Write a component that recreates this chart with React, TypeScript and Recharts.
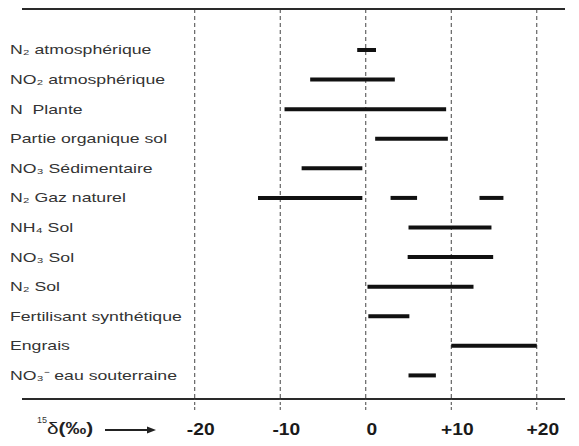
import React from 'react';
import { ComposedChart, Bar, XAxis, YAxis, CartesianGrid, Label } from 'recharts';

const sources: string[] = [
  'N₂ atmosphérique',
  'NO₂ atmosphérique',
  'N  Plante',
  'Partie organique sol',
  'NO₃ Sédimentaire',
  'N₂ Gaz naturel',
  'NH₄ Sol',
  'NO₃ Sol',
  'N₂ Sol',
  'Fertilisant synthétique',
  'Engrais',
  'NO₃⁻ eau souterraine',
];

const mainRange: ([number, number] | null)[] = [
  [-1, 1.2],
  [-6.5, 3.4],
  [-9.5, 9.4],
  [1.1, 9.6],
  [-7.5, -0.4],
  [-12.6, -0.4],
  [5, 14.7],
  [4.9, 14.9],
  [0.2, 12.6],
  [0.3, 5.1],
  [10, 20],
  [5, 8.2],
];

const extraRangeA: ([number, number] | null)[] = [
  null, null, null, null, null, [2.9, 6], null, null, null, null, null, null,
];

const extraRangeB: ([number, number] | null)[] = [
  null, null, null, null, null, [13.3, 16.1], null, null, null, null, null, null,
];

const xTicks: number[] = [-20, -10, 0, 10, 20];
const xTickLabels: string[] = ['-20', '-10', '0', '+10', '+20'];
const xDomain: [number, number] = [-40.2, 23.3];

const data = sources.map((name, i) => ({
  name,
  main: mainRange[i],
  extraA: extraRangeA[i],
  extraB: extraRangeB[i],
}));

const FONT = '"Liberation Sans", Arial, Helvetica, sans-serif';

const tickPixels = (p: any): number[] => {
  const sc = p?.xAxis?.scale;
  if (typeof sc === 'function') {
    return xTicks.map((t) => sc(t));
  }
  const { left, width } = p.offset;
  return xTicks.map((t) => left + ((t - xDomain[0]) / (xDomain[1] - xDomain[0])) * width);
};

const YTick = (props: any) => {
  const { y, payload } = props;
  return (
    <text
      x={0}
      y={0}
      transform={`translate(10,${y}) scale(1.36,1)`}
      dy="0.36em"
      fontSize={13}
      fill="#333"
      fontFamily={FONT}
      style={{ whiteSpace: 'pre' }}
    >
      {payload.value}
    </text>
  );
};

const XTick = (props: any) => {
  const { x, y, payload } = props;
  const idx = xTicks.indexOf(payload.value);
  const label = idx >= 0 ? xTickLabels[idx] : String(payload.value);
  return (
    <text
      x={0}
      y={0}
      transform={`translate(${x + 6},${y + 12}) scale(1.2,1)`}
      dy="0.71em"
      textAnchor="middle"
      fontSize={16}
      fontWeight="bold"
      fill="#1a1a1a"
      fontFamily={FONT}
    >
      {label}
    </text>
  );
};

const DeltaLabel = () => (
  <g>
    <text x={37} y={423} fontSize={9} fill="#333" fontFamily={FONT}>
      15
    </text>
    <text
      x={0}
      y={0}
      transform="translate(47,434) scale(1.3,1)"
      fontSize={16}
      fill="#222"
      fontFamily={FONT}
    >
      δ<tspan fontWeight="bold">(‰)</tspan>
    </text>
    <line x1={105} y1={430} x2={148} y2={430} stroke="#222" strokeWidth={2} />
    <polygon points="147,426.5 156,430 147,433.5" fill="#222" />
  </g>
);

export default function App() {
  return (
    <div style={{ position: 'absolute', left: 0, top: 0, width: 579, height: 446, background: '#fff' }}>
      <ComposedChart
        width={579}
        height={446}
        data={data}
        layout="vertical"
        margin={{ top: 9, right: 14, bottom: 0, left: 0 }}
      >
        <CartesianGrid
          horizontal={false}
          vertical
          stroke="#444"
          strokeDasharray="4 3"
          verticalCoordinatesGenerator={tickPixels}
        />
        <CartesianGrid
          vertical={false}
          horizontal
          stroke="#2a2a2a"
          strokeWidth={2}
          horizontalCoordinatesGenerator={(p: any) => [p.offset.top]}
        />
        <XAxis
          type="number"
          domain={xDomain}
          ticks={xTicks}
          allowDataOverflow
          height={47}
          axisLine={{ stroke: '#2a2a2a', strokeWidth: 2 }}
          tickLine={{ stroke: '#444', strokeDasharray: '3 2' }}
          tickSize={11}
          tick={<XTick />}
          interval={0}
        >
          <Label content={<DeltaLabel />} />
        </XAxis>
        <YAxis
          yAxisId="main"
          type="category"
          dataKey="name"
          width={22}
          axisLine={false}
          tickLine={false}
          tick={<YTick />}
          interval={0}
          padding={{ top: 26, bottom: 9 }}
        />
        <YAxis yAxisId="a" type="category" dataKey="name" hide padding={{ top: 26, bottom: 9 }} />
        <YAxis yAxisId="b" type="category" dataKey="name" hide padding={{ top: 26, bottom: 9 }} />
        <Bar yAxisId="main" dataKey="main" fill="#111" barSize={4} isAnimationActive={false} />
        <Bar yAxisId="a" dataKey="extraA" fill="#111" barSize={4} isAnimationActive={false} />
        <Bar yAxisId="b" dataKey="extraB" fill="#111" barSize={4} isAnimationActive={false} />
      </ComposedChart>
    </div>
  );
}
